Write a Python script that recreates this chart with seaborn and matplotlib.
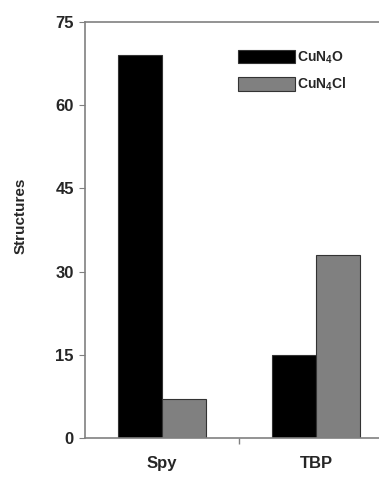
import numpy as np
import pandas as pd
import seaborn as sns
import matplotlib.pyplot as plt

# Dane
categories = ["Spy", "TBP"]
series_names = ["CuN$_4$O", "CuN$_4$Cl"]
cun4o_values = [69, 15]
cun4cl_values = [7, 33]
y_ticks = [0, 15, 30, 45, 60, 75]

rows = []
for cat, a, b in zip(categories, cun4o_values, cun4cl_values):
    rows.append({"Geometria": cat, "Seria": series_names[0], "Structures": a})
    rows.append({"Geometria": cat, "Seria": series_names[1], "Structures": b})
df = pd.DataFrame(rows)

sns.set_style("white")
plt.rcParams['font.family'] = ['Liberation Sans', 'DejaVu Sans']
plt.rcParams['mathtext.fontset'] = 'custom'
plt.rcParams['mathtext.rm'] = 'Liberation Sans:bold'
plt.rcParams['mathtext.it'] = 'Liberation Sans:bold'
plt.rcParams['mathtext.bf'] = 'Liberation Sans:bold'

fig = plt.figure(figsize=(3.79, 4.78), dpi=100)
ax = fig.add_axes([0.224, 0.0837, 0.813, 0.870])

sns.barplot(data=df, x="Geometria", y="Structures", hue="Seria",
            palette=["#000000", "#808080"], width=0.57, gap=0,
            edgecolor="#333333", linewidth=0.8, ax=ax)

ax.set_xlim(-0.5, 1.5)
ax.set_ylim(0, 75)
ax.set_yticks(y_ticks)
ax.set_yticklabels([str(v) for v in y_ticks], fontsize=12, fontweight='bold')
ax.set_xticks([0, 1])
ax.set_xticklabels(categories, fontsize=12, fontweight='bold')
ax.set_xticks([0.5], minor=True)
ax.tick_params(axis='x', which='major', length=0, pad=13)
ax.tick_params(axis='x', which='minor', bottom=True, length=4, width=1,
               color='#808080', direction='out')
ax.tick_params(axis='y', length=4, color='#808080', direction='out', left=True, pad=4)
ax.set_xlabel("")
ax.set_ylabel("Structures", fontsize=11, fontweight='bold')
ax.yaxis.set_label_coords(-0.185, 0.535)

for side in ['left', 'bottom', 'top']:
    ax.spines[side].set_color('#808080')
    ax.spines[side].set_linewidth(1.2)
ax.spines['right'].set_visible(False)

handles, labels = ax.get_legend_handles_labels()
ax.legend(handles, labels, loc='upper left', bbox_to_anchor=(0.455, 0.965),
          frameon=False, handlelength=4.1, handleheight=1.15,
          handletextpad=0.2, labelspacing=0.75,
          prop={'weight': 'bold', 'size': 10})

fig.savefig("out.png", dpi=100)
